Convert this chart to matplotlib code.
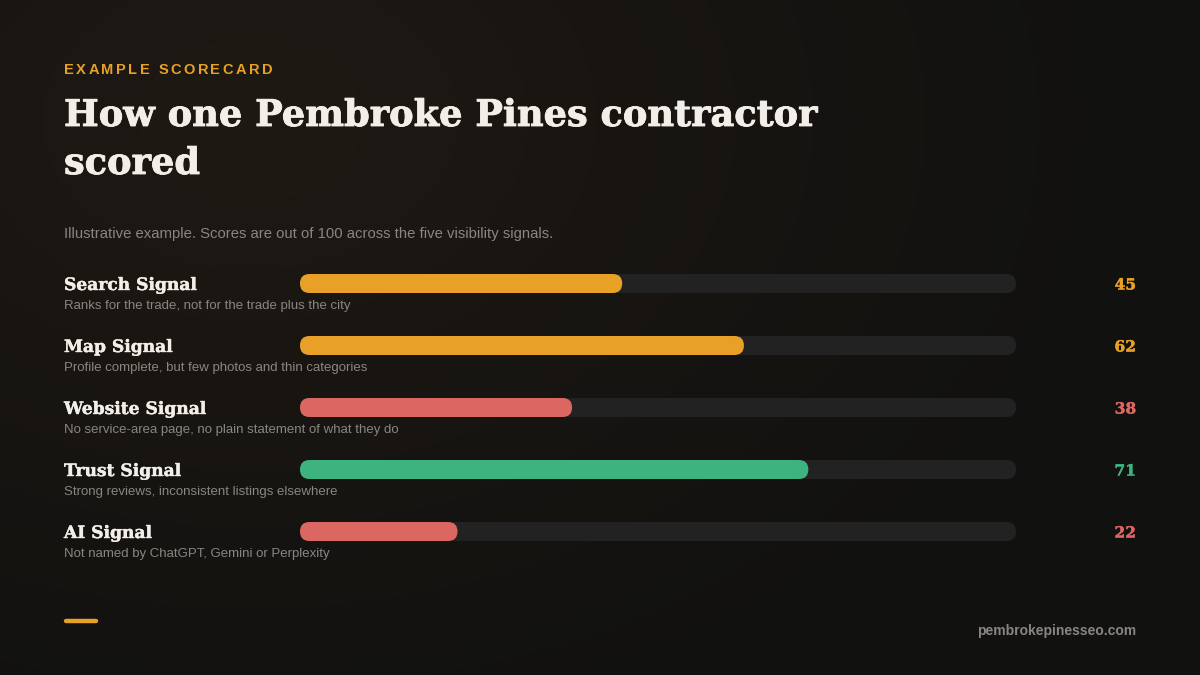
import matplotlib
matplotlib.use("Agg")
import matplotlib.pyplot as plt
import matplotlib.patheffects as pe
import numpy as np
from matplotlib.patches import FancyBboxPatch

# ---- data ----
labels = ["Search Signal", "Map Signal", "Website Signal", "Trust Signal", "AI Signal"]
notes = [
    "Ranks for the trade, not for the trade plus the city",
    "Profile complete, but few photos and thin categories",
    "No service-area page, no plain statement of what they do",
    "Strong reviews, inconsistent listings elsewhere",
    "Not named by ChatGPT, Gemini or Perplexity",
]
scores = [45, 62, 38, 71, 22]
max_score = 100

eyebrow = "EXAMPLE SCORECARD"
title_lines = ["How one Pembroke Pines contractor", "scored"]
subtitle = "Illustrative example. Scores are out of 100 across the five visibility signals."
footer = "pembrokepinesseo.com"

# ---- style ----
W, H = 1200, 675
ORANGE = "#E8A126"
RED = "#DC6661"
GREEN = "#3DB47F"
TRACK = "#232222"
CREAM = "#F3EFE8"
GRAY = "#8A8580"
SERIF = "DejaVu Serif"
SANS = "Liberation Sans"


def score_color(v):
    if v >= 70:
        return GREEN
    if v >= 40:
        return ORANGE
    return RED


def heavy(color, lw):
    # a touch of extra stroke weight on the serif headings
    return [pe.withStroke(linewidth=lw, foreground=color)]


fig = plt.figure(figsize=(12, 6.75), dpi=100)
ax = fig.add_axes([0, 0, 1, 1])
ax.set_xlim(0, W)
ax.set_ylim(H, 0)
ax.axis("off")
renderer = fig.canvas.get_renderer()


def fit_text(x, y, s, width, size, **kw):
    # draw text, then rescale font so it spans roughly `width` pixels
    t = ax.text(x, y, s, fontsize=size, **kw)
    w = t.get_window_extent(renderer).width
    t.set_fontsize(size * width / w)
    return t


# background: warm glow top-left fading to near black
yy, xx = np.mgrid[0:H, 0:W]
d = np.sqrt(((xx - 250) / 900.0) ** 2 + ((yy - 120) / 650.0) ** 2)
t = np.clip(d, 0, 1)[..., None]
c0 = np.array([0x1E, 0x19, 0x13]) / 255
c1 = np.array([0x11, 0x11, 0x10]) / 255
bg = c0 * (1 - t) + c1 * t
ax.imshow(bg, extent=(0, W, H, 0), zorder=0, aspect="auto")

# eyebrow with letter spacing
x = 64
for ch in eyebrow:
    txt = ax.text(x, 74, ch, color=ORANGE, fontsize=10.5, fontweight="bold",
                  family=SANS, va="baseline", ha="left")
    w = txt.get_window_extent(renderer).width
    if ch == " ":
        w = 4.5
    x += w + 2.4

title_t = fit_text(64, 126, title_lines[0], 754, 28, color=CREAM,
                   fontweight="bold", family=SERIF, va="baseline", ha="left",
                   path_effects=heavy(CREAM, 0.6))
ax.text(64, 174, title_lines[1], color=CREAM, fontsize=title_t.get_fontsize(),
        fontweight="bold", family=SERIF, va="baseline", ha="left",
        path_effects=heavy(CREAM, 0.6))
ax.text(64, 238, subtitle, color=GRAY, fontsize=10.7, family=SANS,
        va="baseline", ha="left")

# rows
bar_x0, bar_x1 = 300, 1016
bar_h = 19
row_y0, row_step = 283.5, 62
lab_size = None
for i, (lab, note, v) in enumerate(zip(labels, notes, scores)):
    y = row_y0 + i * row_step
    col = score_color(v)
    if lab_size is None:
        lt = fit_text(64, y + 6.5, lab, 133, 14, color=CREAM, fontweight="bold",
                      family=SERIF, va="baseline", ha="left",
                      path_effects=heavy(CREAM, 0.3))
        lab_size = lt.get_fontsize()
    else:
        ax.text(64, y + 6.5, lab, color=CREAM, fontsize=lab_size, fontweight="bold",
                family=SERIF, va="baseline", ha="left",
                path_effects=heavy(CREAM, 0.3))
    ax.text(64, y + 26, note, color=GRAY, fontsize=9.5, family=SANS,
            va="baseline", ha="left")
    track = FancyBboxPatch((bar_x0, y - bar_h / 2), bar_x1 - bar_x0, bar_h,
                           boxstyle=f"round,pad=0,rounding_size={bar_h / 2}",
                           fc=TRACK, ec="none", zorder=2)
    ax.add_patch(track)
    fill_w = (bar_x1 - bar_x0) * v / max_score
    fill = FancyBboxPatch((bar_x0, y - bar_h / 2), fill_w, bar_h,
                          boxstyle=f"round,pad=0,rounding_size={bar_h / 2}",
                          fc=col, ec="none", zorder=3)
    ax.add_patch(fill)
    ax.text(1136, y + 6, str(v), color=col, fontsize=lab_size * 0.9,
            fontweight="bold", family=SERIF, va="baseline", ha="right",
            path_effects=heavy(col, 0.3))

# footer
ax.plot([66, 96], [621, 621], color=ORANGE, lw=3.2, solid_capstyle="round")
ax.text(1136, 635, footer, color=GRAY, fontsize=10, fontweight="bold",
        family=SANS, va="baseline", ha="right")

fig.savefig("out.png", dpi=100)
